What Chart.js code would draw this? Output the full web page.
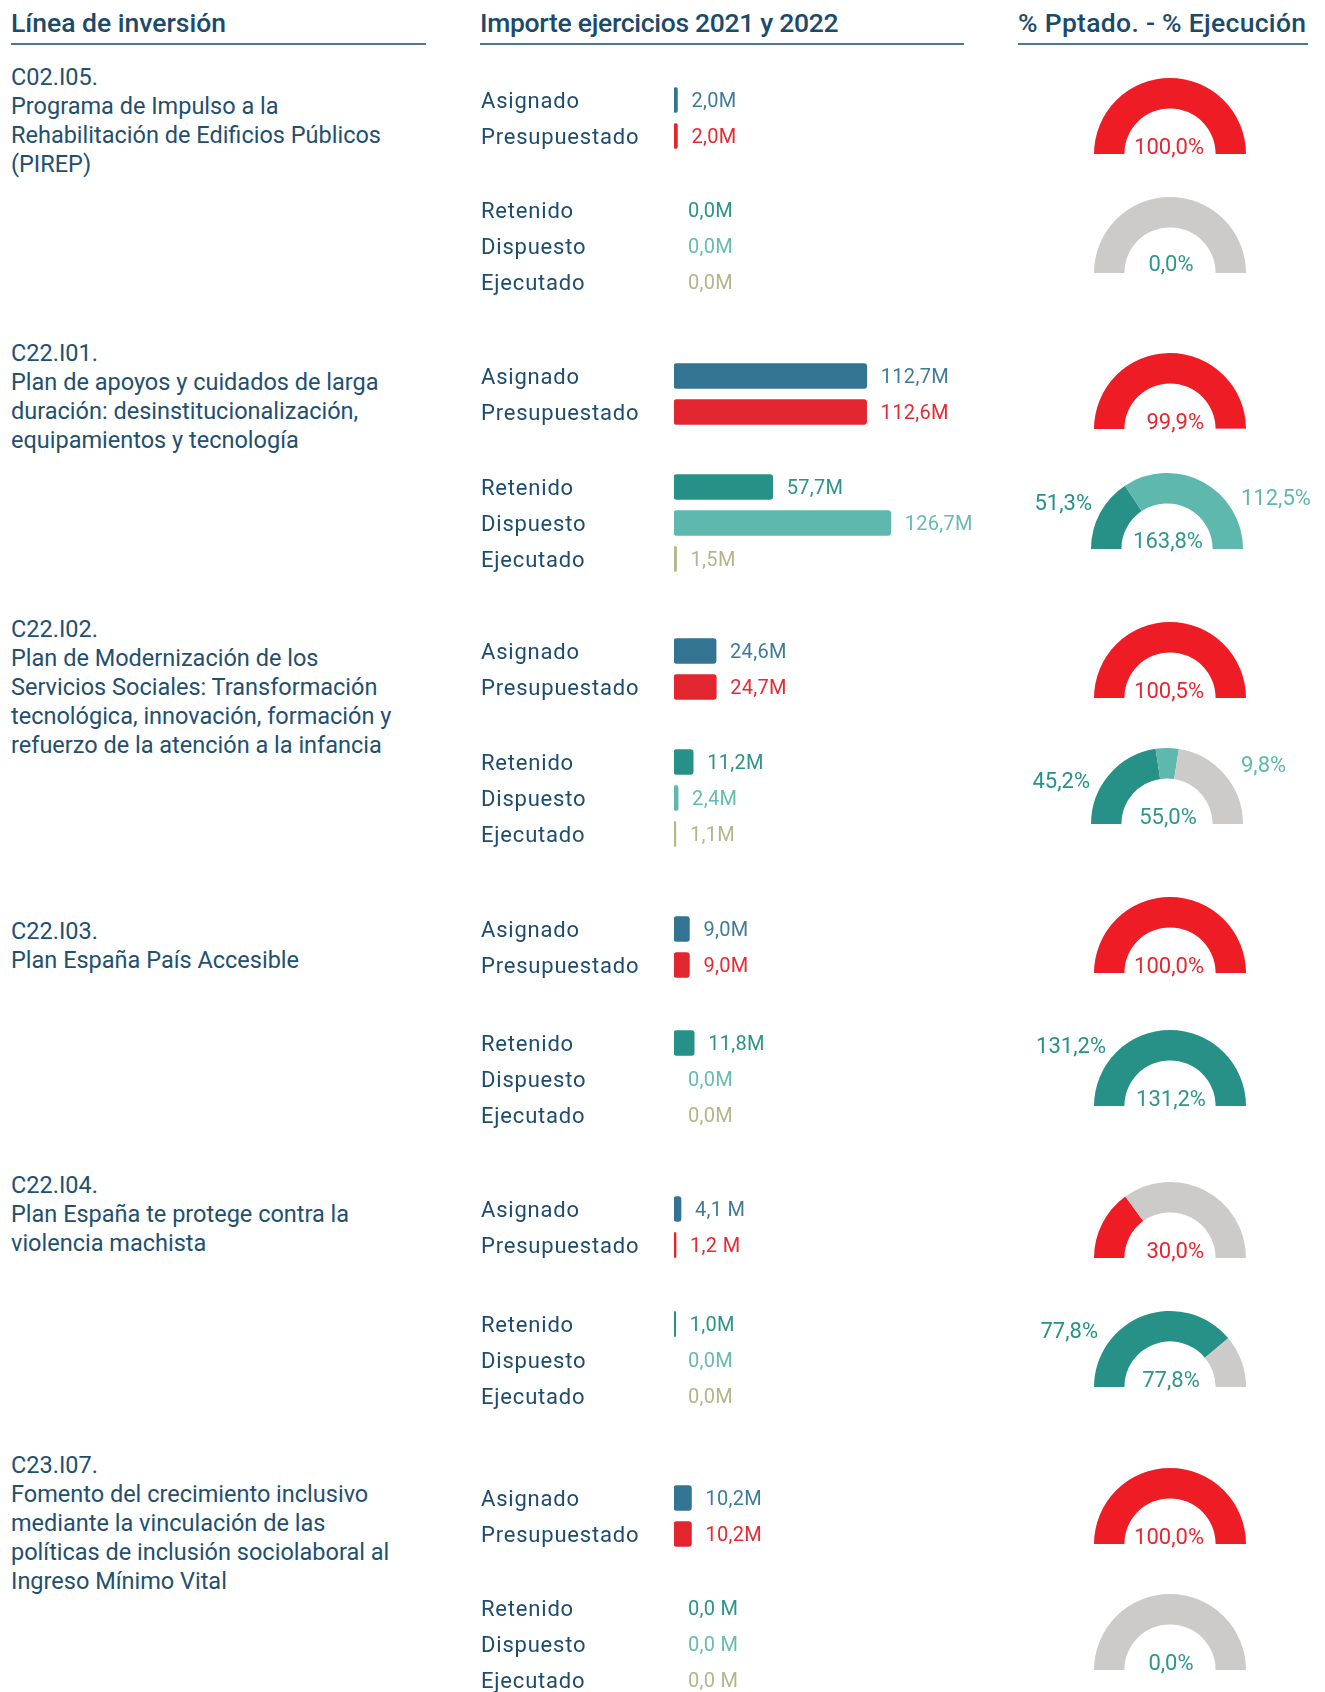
<!DOCTYPE html>
<html><head><meta charset="utf-8">
<script src="https://cdn.jsdelivr.net/npm/chart.js@4.4.0/dist/chart.umd.min.js"></script>
<style>
html,body{margin:0;padding:0;background:#fff;}
#page{position:relative;width:1325px;height:1692px;overflow:hidden;font-family:Roboto,sans-serif;background:#fff;}
.hdr{position:absolute;top:10px;font-size:26.5px;line-height:26px;font-weight:500;color:#1b4a6b;white-space:nowrap;}
.rule{position:absolute;top:43px;height:2px;background:#4f7592;}
.name{position:absolute;left:11px;font-size:23.5px;line-height:29px;color:#234f6f;white-space:pre;}
.cv{position:absolute;}
.glab{position:absolute;font-size:22px;line-height:22px;white-space:nowrap;}
</style></head><body><div id="page"></div>
<script>
// ---------- DATA ----------
const codes = ['C02.I05.','C22.I01.','C22.I02.','C22.I03.','C22.I04.','C23.I07.'];
const names = [
  'Programa de Impulso a la\nRehabilitación de Edificios Públicos\n(PIREP)',
  'Plan de apoyos y cuidados de larga\nduración: desinstitucionalización,\nequipamientos y tecnología',
  'Plan de Modernización de los\nServicios Sociales: Transformación\ntecnológica, innovación, formación y\nrefuerzo de la atención a la infancia',
  'Plan España País Accesible',
  'Plan España te protege contra la\nviolencia machista',
  'Fomento del crecimiento inclusivo\nmediante la vinculación de las\npolíticas de inclusión sociolaboral al\nIngreso Mínimo Vital'
];
const headers = ['Línea de inversión','Importe ejercicios 2021 y 2022','% Pptado. - % Ejecución'];
const rowLabels = ['Asignado','Presupuestado','Retenido','Dispuesto','Ejecutado'];
const asignado      = [2.0, 112.7, 24.6, 9.0, 4.1, 10.2];
const presupuestado = [2.0, 112.6, 24.7, 9.0, 1.2, 10.2];
const retenido      = [0.0, 57.7, 11.2, 11.8, 1.0, 0.0];
const dispuesto     = [0.0, 126.7, 2.4, 0.0, 0.0, 0.0];
const ejecutado     = [0.0, 1.5, 1.1, 0.0, 0.0, 0.0];
// value labels as printed (unit spacing varies in the source)
const amountLabels = [
  ['2,0M','2,0M','0,0M','0,0M','0,0M'],
  ['112,7M','112,6M','57,7M','126,7M','1,5M'],
  ['24,6M','24,7M','11,2M','2,4M','1,1M'],
  ['9,0M','9,0M','11,8M','0,0M','0,0M'],
  ['4,1 M','1,2 M','1,0M','0,0M','0,0M'],
  ['10,2M','10,2M','0,0 M','0,0 M','0,0 M']
];
const pctPptado    = [100.0, 99.9, 100.5, 100.0, 30.0, 100.0];
const pctRetenido  = [0.0, 51.3, 45.2, 131.2, 77.8, 0.0];
const pctDispuesto = [0.0, 112.5, 9.8, 0.0, 0.0, 0.0];

// ---------- STYLE / LAYOUT ----------
const barColors  = ['#347493','#e1262f','#279187','#5eb8ad','#b5b98a'];
const textColors = ['#3f7b99','#e52a33','#2a9488','#68bbb1','#b3b68a'];
const C_RED='#ee1c25', C_GRAY='#cdcaca', C_TEAL='#279187', C_LTEAL='#5eb8ad';
const ROW=35.9, XMAX=190, AXISW=193, PLOTW=325;
const L = [
  {nameTop:63,  top:99.5,  low:210,    g1:154.3, g2:273.0, g2x:1170, c2:9},
  {nameTop:339, top:376.3, low:486.5,  g1:429.4, g2:549.2, g2x:1167, c2:8, sl:[1092,502.7], sr:[1241,498.4]},
  {nameTop:615, top:651.3, low:761.5,  g1:698.1, g2:824.4, g2x:1167, c2:7, sl:[1090,781], sr:[1241,765]},
  {nameTop:917, top:929.2, low:1042.5, g1:973.3, g2:1106,  g2x:1170, c2:7, sl:[1106,1045.5]},
  {nameTop:1171,top:1208.8,low:1324,   g1:1258.1,g2:1386.5,g2x:1170, c2:7, sl:[1098,1331.4]},
  {nameTop:1451,top:1497.5,low:1608,   g1:1544.0,g2:1670.3,g2x:1170, c2:7}
];
const fmtPct = v => v.toFixed(1).replace('.',',') + '%';

const page = document.getElementById('page');
function el(tag, cls, css, text){
  const e=document.createElement(tag); if(cls) e.className=cls;
  Object.assign(e.style, css||{}); if(text!=null) e.textContent=text; page.appendChild(e); return e;
}

// headers
const hx=[11,480,1018], rx=[[11,426],[480,964],[1018,1308]], hls=['0px','-0.3px','0.3px'];
headers.forEach((h,i)=>{
  el('div','hdr',{left:hx[i]+'px',letterSpacing:hls[i]},h);
  el('div','rule',{left:rx[i][0]+'px',width:(rx[i][1]-rx[i][0])+'px'});
});

const valueLabelPlugin = {
  id:'valueLabels',
  beforeDraw(chart){ chart.ctx.letterSpacing='0.8px'; },
  afterDatasetsDraw(chart, args, opts){
    const ctx=chart.ctx, meta=chart.getDatasetMeta(0);
    ctx.save();
    ctx.letterSpacing='0.3px';
    ctx.font='20px Roboto'; ctx.textBaseline='middle'; ctx.textAlign='left';
    meta.data.forEach((bar,i)=>{
      ctx.fillStyle=opts.colors[i];
      ctx.fillText(opts.texts[i], bar.x+14, bar.y+2);
    });
    ctx.restore();
  }
};

function barChart(topCenter, idx, s){
  const vals=[asignado[s],presupuestado[s],retenido[s],dispuesto[s],ejecutado[s]];
  const c=el('canvas','cv',{left:'481px',top:(topCenter-ROW/2)+'px'});
  c.width=AXISW+PLOTW; c.height=Math.round(ROW*idx.length);
  const cols=idx.map(i=>barColors[i]);
  new Chart(c,{type:'bar',
    data:{labels:idx.map(i=>rowLabels[i]),datasets:[{
      data:idx.map(i=>vals[i]),
      backgroundColor:(ctx)=> ctx.raw ? cols[ctx.dataIndex] : 'rgba(0,0,0,0)',
      borderRadius:3,borderSkipped:false,barThickness:25}]},
    options:{indexAxis:'y',responsive:false,animation:false,events:[],layout:{padding:0},
      plugins:{legend:{display:false},tooltip:{enabled:false},
        valueLabels:{texts:idx.map(i=>amountLabels[s][i]),colors:idx.map(i=>textColors[i])}},
      scales:{
        x:{display:false,min:0,max:XMAX},
        y:{position:'left',grid:{display:false},border:{display:false},
           ticks:{crossAlign:'far',autoSkip:false,padding:0,labelOffset:2,color:'#1e4c6e',
                  font:{family:'Roboto',size:22,lineHeight:0.01}},
           afterFit(sc){sc.width=AXISW; sc.paddingTop=0; sc.paddingBottom=0;}}
      }},
    plugins:[valueLabelPlugin]});
}

function gauge(left, top, data, colors){
  const c=el('canvas','cv',{left:left+'px',top:top+'px'});
  c.width=152; c.height=76;
  new Chart(c,{type:'doughnut',
    data:{datasets:[{data:data,backgroundColor:colors,borderWidth:0}]},
    options:{responsive:false,animation:false,events:[],circumference:180,rotation:-90,cutout:'60%',
      layout:{padding:0},plugins:{legend:{display:false},tooltip:{enabled:false}}}});
}

for(let s=0;s<6;s++){
  const lay=L[s];
  el('div','name',{top:lay.nameTop+'px'}, codes[s]+'\n'+names[s]);

  barChart(lay.top, [0,1], s);
  barChart(lay.low, [2,3,4], s);

  // gauge 1 : % presupuestado
  const p=pctPptado[s];
  gauge(1170-76, lay.g1-76, [p, Math.max(0,100-p)], [C_RED,C_GRAY]);
  el('div','glab',{left:'0px',width:'1204px',textAlign:'right',top:(lay.g1-7-11)+'px',color:'#e8262f'}, fmtPct(p));

  // gauge 2 : % ejecucion
  const r=pctRetenido[s], d=pctDispuesto[s];
  gauge(lay.g2x-76, lay.g2-76, [r, d, Math.max(0,100-r-d)], [C_TEAL,C_LTEAL,C_GRAY]);
  el('div','glab',{left:(lay.g2x+1-100)+'px',width:'200px',textAlign:'center',top:(lay.g2-lay.c2-11)+'px',color:'#2f968b'}, fmtPct(r+d));
  if(r>0 && lay.sl) el('div','glab',{left:(lay.sl[0]-200)+'px',width:'200px',textAlign:'right',top:(lay.sl[1]-11)+'px',color:C_TEAL}, fmtPct(r));
  if(d>0 && lay.sr) el('div','glab',{left:lay.sr[0]+'px',top:(lay.sr[1]-11)+'px',color:C_LTEAL}, fmtPct(d));
}
</script></body></html>
